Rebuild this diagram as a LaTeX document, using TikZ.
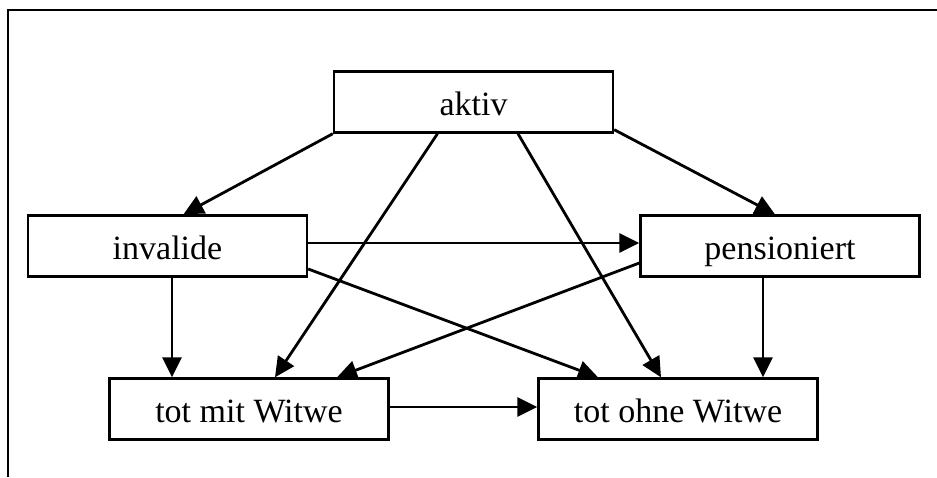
\documentclass[tikz,border=0pt]{standalone}
\usepackage{fontspec}
\setmainfont{Liberation Serif}
\usetikzlibrary{arrows.meta}
\begin{document}
\begin{tikzpicture}[x=1pt,y=1pt,
  statebox/.style={draw, line width=2.4pt, rectangle, minimum width=279pt, minimum height=61pt, inner sep=0pt, text height=26pt, text depth=0pt, font=\fontsize{34}{40}\selectfont},
  conn/.style={line width=2.8pt, -{Triangle[length=20pt,width=19pt]}}]
\useasboundingbox (0,0) rectangle (937,-477);
\draw[line width=2.8pt] (8,-477) -- (8,-10) -- (937,-10);
\node[statebox] (aktiv) at (473.5,-102) {aktiv};
\node[statebox] (invalide) at (167.5,-246) {invalide};
\node[statebox] (pens) at (780,-246) {pensioniert};
\node[statebox] (totmit) at (249,-409) {tot mit Witwe};
\node[statebox] (totohne) at (678,-409) {tot ohne Witwe};
\draw[conn] (aktiv.south west) -- ([xshift=16pt]invalide.north);
\draw[conn] ([yshift=4pt]aktiv.south east) -- ([xshift=-5pt]pens.north);
\draw[conn] ([xshift=-36pt]aktiv.south) -- ([xshift=26pt]totmit.north);
\draw[conn] ([xshift=44.5pt]aktiv.south) -- ([xshift=-17pt]totohne.north);
\draw[conn] ([yshift=3pt]invalide.east) -- ([yshift=3pt]pens.west);
\draw[conn] ([yshift=-23pt]invalide.east) -- ([xshift=-80pt]totohne.north);
\draw[conn] ([xshift=4.5pt]invalide.south) -- ([xshift=4.5pt]invalide.south |- totmit.north);
\draw[conn] ([yshift=-17pt]pens.west) -- ([xshift=88pt]totmit.north);
\draw[conn] ([xshift=-17pt]pens.south) -- ([xshift=-17pt]pens.south |- totohne.north);
\draw[conn] ([yshift=2pt]totmit.east) -- ([yshift=2pt]totmit.east -| totohne.west);
\end{tikzpicture}
\end{document}
